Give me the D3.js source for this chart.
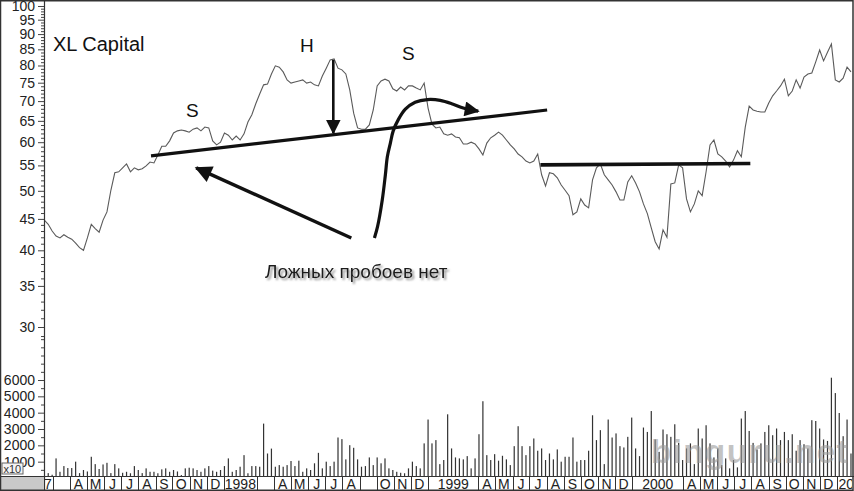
<!DOCTYPE html>
<html><head><meta charset="utf-8">
<script src="https://cdn.jsdelivr.net/npm/d3@7"></script>
<style>
body{margin:0;background:#fff}
svg{display:block}
text{font-family:"Liberation Sans",Arial,Helvetica,sans-serif}
</style>
</head><body>
<svg id="c" width="854" height="491"></svg>
<script>
// ---------------- DATA ----------------
const title = "XL Capital";
const note = "Ложных пробоев нет";
const watermark = "binguru.net";
const firstWeek = [1997, 1, 14]; // weekly closes start (y, m0, d)

const prices = [
44.8,44.1,43.0,42.2,41.9,42.4,42.0,41.7,41.1,40.4,
40.0,41.9,44.1,43.4,42.8,44.8,46.2,50.1,53.5,53.7,
54.5,55.3,53.7,54.5,54.1,54.3,54.9,55.7,55.5,57.2,
59.1,59.1,60.3,62.1,62.6,62.8,62.6,62.3,63.0,63.3,
62.6,63.5,63.3,60.3,59.4,60.0,62.1,61.6,60.5,61.4,
60.5,61.9,64.7,66.5,69.3,71.9,74.4,74.6,77.5,79.9,
79.5,78.1,75.8,74.9,75.2,75.5,75.8,74.9,75.2,74.4,
74.1,76.9,79.2,81.7,82.0,79.2,78.7,77.5,73.0,66.9,
63.3,63.0,63.0,64.0,67.7,74.1,75.5,76.0,75.5,73.3,
72.7,73.8,73.0,74.1,74.1,73.5,73.0,74.9,68.2,64.2,
63.3,63.5,61.9,61.6,61.9,61.2,61.0,59.6,59.6,60.0,
59.6,58.5,57.2,59.8,61.0,61.6,62.3,61.6,60.5,59.4,
58.5,57.4,56.8,55.9,55.5,55.9,57.4,53.1,50.9,53.5,
53.3,52.5,51.1,50.1,49.1,45.7,46.2,48.5,47.4,46.9,
52.1,54.5,55.3,53.1,52.1,51.1,49.8,48.3,48.3,51.7,
52.9,51.5,49.8,47.6,45.9,43.5,41.3,40.2,43.2,42.0,
51.3,51.5,55.1,54.5,48.5,46.2,47.6,50.0,49.1,53.7,
59.4,60.5,57.4,56.8,55.9,54.7,56.1,58.1,56.8,63.5,
68.7,67.7,67.4,67.2,67.2,69.5,71.4,72.7,74.1,76.0,
71.4,72.7,75.8,73.5,76.6,77.5,77.8,81.1,84.8,81.4,
84.1,86.7,75.8,75.2,76.3,79.5,78.1
];

const volumes = [
150,300,200,1200,380,730,610,610,1000,300,
490,400,1300,850,550,830,930,300,850,590,
320,380,290,730,490,300,590,380,380,290,
530,590,380,490,400,180,590,630,590,490,
380,590,730,450,380,490,730,1200,380,490,
690,1400,290,730,730,690,3330,1500,1800,690,
790,690,790,1040,730,1060,380,590,490,900,
1540,590,1000,730,1000,2480,2380,1140,2010,1850,
1140,690,730,1260,790,1260,900,1200,590,490,
380,320,290,590,1000,730,590,2120,3580,2120,
2320,850,1100,3900,1810,1260,1200,1140,1340,590,
1200,2680,4700,1400,1100,1460,1060,1360,1140,790,
1950,3170,1950,1400,1950,2420,1670,1810,1100,1500,
1140,1750,1000,1300,1300,2480,1000,1100,1100,1670,
3840,2320,2930,850,3580,2480,2730,1950,1870,2520,
3700,1810,1340,3090,2820,4100,2360,1600,2970,2680,
2520,3290,2150,1100,1810,2120,850,3030,2420,3230,
2120,1260,1810,790,1200,590,1100,650,3640,4100,
2880,2150,1750,2120,2820,3230,2620,3030,2320,2820,
2320,2680,1670,2320,2070,1810,3540,3490,3030,2360,
2270,6140,5200,3980,2560,3580,1500
];

const tickMonths = ["1997-01","1997-03","1997-04","1997-05","1997-06","1997-07","1997-08","1997-09","1997-10","1997-11","1997-12",
"1998-01","1998-03","1998-04","1998-05","1998-06","1998-07","1998-08","1998-09","1998-10","1998-11","1998-12",
"1999-01","1999-04","1999-05","1999-06","1999-07","1999-08","1999-09","1999-10","1999-11","1999-12",
"2000-01","2000-04","2000-05","2000-06","2000-07","2000-08","2000-09","2000-10","2000-11","2000-12",
"2001-01"];
const tickLabels = ["1997","","A","M","J","J","A","S","O","N","D",
"1998","","A","M","J","J","A","","O","N","D",
"1999","A","M","J","J","A","S","O","N","D",
"2000","A","M","J","J","A","S","O","N","D",
"2001"];

const priceTicks = [30,35,40,45,50,55,60,65,70,75,80,85,90,95,100];
const priceMinor = d3.range(29, 101);
const volumeTicks = [1000,2000,3000,4000,5000,6000];
const volumeMinor = d3.range(500, 9000, 500);

// annotation anchors: [week index, price]
const neckline1 = [[27.25, 57.0], [128.4, 67.7]];
const neckline2 = [[126.7, 55.1], [180.3, 55.4]];
const headArrow = [[73.8, 81.7], [73.8, 62.1]];
const longArrow = [[78.4, 41.9], [38.8, 54.5]];
const sCurve = [[84.3,41.9],[85.1,43.7],[86.3,48.3],[87.1,53.1],[87.6,56.8],[88.4,59.9],[89.1,62.6],[90.4,65.3],[92.2,67.9],[94.7,69.7],[97.8,70.4],[101.1,70.2],[104.4,69.2],[107.0,68.2],[110.8,67.4]];

// ---------------- LAYOUT ----------------
const svg = d3.select("#c");
const plotL = 44, plotR = 852, plotT = 1, bandT = 476, bandB = 490;
const x = d3.scaleTime().domain([new Date(1997,2,1), new Date(2001,0,1)]).range([52.7, 837]);
const y = d3.scaleLog().domain([30,100]).range([327,6]);
const yv = d3.scaleLinear().domain([0,6000]).range([478,380]);
const start = new Date(firstWeek[0], firstWeek[1], firstWeek[2]);
const wDate = w => new Date(start.getTime() + w*7*864e5);
const dates = prices.map((_, i) => d3.timeDay.offset(start, 7*i));
const px = a => [x(wDate(a[0])), y(a[1])];

const defs = svg.append("defs");
defs.append("clipPath").attr("id","plot").append("rect")
  .attr("x", plotL).attr("y", plotT).attr("width", plotR-plotL).attr("height", bandT-plotT);
defs.append("clipPath").attr("id","band").append("rect")
  .attr("x", plotL).attr("y", bandT).attr("width", plotR-plotL).attr("height", bandB-bandT);
function marker(id, len, wid){
  defs.append("marker").attr("id",id).attr("viewBox","0 0 10 10")
    .attr("refX",9).attr("refY",5).attr("markerWidth",len).attr("markerHeight",wid)
    .attr("markerUnits","userSpaceOnUse").attr("orient","auto")
    .append("path").attr("d","M0,0L10,5L0,10z").attr("fill","#111");
}
marker("mH", 15, 15); marker("mL", 22, 17); marker("mS", 17, 15);
const f = defs.append("filter").attr("id","sh").attr("x","-10%").attr("y","-30%").attr("width","130%").attr("height","170%");
f.append("feDropShadow").attr("dx",2).attr("dy",2).attr("stdDeviation",1.3)
  .attr("flood-color","#777").attr("flood-opacity",0.85);

svg.append("rect").attr("width",854).attr("height",491).attr("fill","#fff");

// volume bars
const gPlot = svg.append("g").attr("clip-path","url(#plot)");
gPlot.selectAll("rect.v").data(volumes).join("rect").attr("class","v")
  .attr("x", (d,i) => x(dates[i]) - 0.6)
  .attr("width", 1.2)
  .attr("y", d => yv(d))
  .attr("height", d => bandT - yv(d))
  .attr("fill", "#333");

// watermark
svg.append("text").attr("x", 651).attr("y", 463).text(watermark)
  .attr("font-size", 33).attr("font-weight","bold").attr("fill","#9a9a9a").attr("fill-opacity",0.6)
  .attr("letter-spacing", 1.5);

// price line
gPlot.append("path").datum(prices)
  .attr("d", d3.line().x((d,i) => x(dates[i])).y(d => y(d)))
  .attr("fill","none").attr("stroke","#5a5a5a").attr("stroke-width",1.1);

// annotations
const ln = d3.line();
const ann = svg.append("g").attr("fill","none").attr("stroke","#111");
ann.append("path").attr("d", ln(neckline1.map(px))).attr("stroke-width",3.2);
ann.append("path").attr("d", ln(neckline2.map(px))).attr("stroke-width",3.6);
ann.append("path").attr("d", ln(headArrow.map(px))).attr("stroke-width",2.6).attr("marker-end","url(#mH)");
ann.append("path").attr("d", ln(longArrow.map(px))).attr("stroke-width",3.4).attr("marker-end","url(#mL)");
ann.append("path").attr("d", d3.line().curve(d3.curveCatmullRom)(sCurve.map(px))).attr("stroke-width",3.2).attr("marker-end","url(#mS)");

const txt = svg.append("g").attr("fill","#111");
txt.append("text").attr("x",53).attr("y",51).attr("font-size",20).text(title);
txt.append("text").attr("x",300).attr("y",52).attr("font-size",19).text("H");
txt.append("text").attr("x",186).attr("y",117).attr("font-size",19).text("S");
txt.append("text").attr("x",402).attr("y",60).attr("font-size",19).text("S");
txt.append("text").attr("x",265).attr("y",278).attr("font-size",19).attr("fill","#1a1a1a")
  .attr("filter","url(#sh)").text(note);

// left axes
const axG = svg.append("g").attr("transform",`translate(${plotL},0)`);
const styleAxis = g => { g.select(".domain").remove(); g.selectAll("line").attr("stroke","#444");
  g.selectAll("text").attr("font-size",14).attr("fill","#222")
   .attr("font-family",'"Liberation Sans",Arial,sans-serif'); };
axG.append("g").call(d3.axisLeft(y).tickValues(priceMinor.filter(v=>!priceTicks.includes(v))).tickSize(3).tickFormat("")).call(styleAxis);
axG.append("g").call(d3.axisLeft(y).tickValues(priceTicks).tickSize(6).tickPadding(3).tickFormat(d3.format("d"))).call(styleAxis);
axG.append("g").call(d3.axisLeft(yv).tickValues(volumeMinor.filter(v=>!volumeTicks.includes(v))).tickSize(3).tickFormat("")).call(styleAxis);
axG.append("g").call(d3.axisLeft(yv).tickValues(volumeTicks).tickSize(6).tickPadding(3).tickFormat(d3.format("d"))).call(styleAxis);
svg.append("line").attr("x1",plotL+0.5).attr("x2",plotL+0.5).attr("y1",0).attr("y2",bandB).attr("stroke","#333").attr("stroke-width",1.2);

// x10 box
const xb = svg.append("g");
xb.append("rect").attr("x",2).attr("y",463).attr("width",21).attr("height",11)
  .attr("fill","#f4f4f4").attr("stroke","#666").attr("stroke-width",1);
xb.append("text").attr("x",3.5).attr("y",472.5).attr("font-size",11).attr("fill","#333").text("x10");

// bottom band
svg.append("rect").attr("x",0).attr("y",bandT).attr("width",plotL).attr("height",bandB-bandT).attr("fill","#c9c9c9");
svg.append("line").attr("x1",0).attr("x2",854).attr("y1",bandT+0.5).attr("y2",bandT+0.5).attr("stroke","#333").attr("stroke-width",1.2);
const tickDates = tickMonths.map(s => { const [yy,mm] = s.split("-").map(Number); return new Date(yy, mm-1, 1); });
const gBand = svg.append("g").attr("clip-path","url(#band)");
gBand.selectAll("line.sep").data(tickDates).join("line").attr("class","sep")
  .attr("x1", d => Math.round(x(d))+0.5).attr("x2", d => Math.round(x(d))+0.5)
  .attr("y1", bandT).attr("y2", bandB).attr("stroke","#333").attr("stroke-width",1);
gBand.selectAll("text.ml").data(tickDates).join("text").attr("class","ml")
  .attr("x", (d,i) => i < tickDates.length-1 ? (x(d)+x(tickDates[i+1]))/2 : x(d)+1.5)
  .attr("text-anchor", (d,i) => i < tickDates.length-1 ? "middle" : "start")
  .attr("y", 489).attr("font-size",14).attr("fill","#222")
  .text((d,i) => tickLabels[i]);

// outer frame
svg.append("rect").attr("x",0.5).attr("y",0.75).attr("width",852.5).attr("height",489.5)
  .attr("fill","none").attr("stroke","#333").attr("stroke-width",1.5);
</script>
</body></html>
